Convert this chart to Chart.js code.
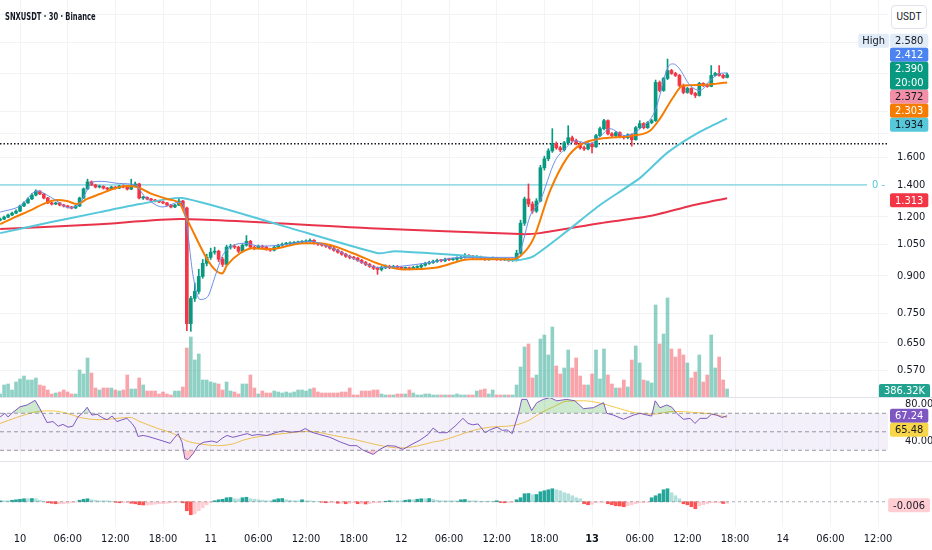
<!DOCTYPE html>
<html lang="en">
<head>
<meta charset="UTF-8">
<title>SNXUSDT · 30 · Binance</title>
<script src="https://cdn.jsdelivr.net/npm/chart.js"></script>
<style>
  body { margin: 0; background: #fff; }
  #wrap { position: relative; width: 932px; height: 550px; overflow: hidden; font-family: Roboto, sans-serif; }
  canvas { position: absolute; left: 0; }
  #title { position: absolute; left: 5px; top: 10px; font-size: 11px; font-weight: 600; color: #131722; z-index: 3; white-space: nowrap; transform-origin: left center; }
  #unit { position: absolute; left: 891px; top: 5px; width: 34px; height: 22px; border: 1px solid #e0e3eb; border-radius: 4px; font-size: 10px; line-height: 22px; text-align: center; color: #131722; background: #fff; z-index: 3; }
  .sep { position: absolute; left: 0; width: 932px; height: 1px; background: #e0e3eb; z-index: 2; }
</style>
</head>
<body>
<div id="wrap">
  <div id="title">SNXUSDT · 30 · Binance</div>
  <div id="unit">USDT</div>
  <canvas id="priceCanvas" width="932" height="397" style="top:0"></canvas>
  <canvas id="rsiCanvas" width="932" height="64" style="top:397px"></canvas>
  <canvas id="macdCanvas" width="932" height="89" style="top:461px"></canvas>
  <div class="sep" style="top:397px"></div>
  <div class="sep" style="top:461px"></div>
</div>

<script>
  // ---- data (30 min candles, index 0 = day 10 00:00) ----
  const candleStart = -5;
  const firstOpen = 1.180;

  const closes = [
    1.186, 1.198, 1.210, 1.221, 1.233,
    1.264, 1.283, 1.308, 1.333, 1.359, 1.340, 1.314, 1.283, 1.276, 1.283,
    1.270, 1.264, 1.258, 1.252, 1.264, 1.314, 1.373, 1.421, 1.400, 1.386,
    1.390, 1.379, 1.372, 1.386, 1.379, 1.393, 1.386, 1.372, 1.393, 1.407,
    1.314, 1.318, 1.308, 1.301, 1.295, 1.289, 1.283, 1.270, 1.258, 1.270,
    1.295, 1.252, 0.714, 0.807, 0.835, 0.898, 0.957, 0.985, 1.010, 1.015,
    0.976, 0.952, 1.035, 1.040, 1.035, 1.015, 1.045, 1.065, 1.035, 1.030,
    1.040, 1.035, 1.025, 1.020, 1.035, 1.045, 1.050, 1.052, 1.055, 1.057,
    1.060, 1.062, 1.065, 1.070, 1.055, 1.050, 1.045, 1.040, 1.030, 1.020,
    1.010, 1.000, 0.990, 0.985, 0.981, 0.971, 0.961, 0.952, 0.943, 0.934,
    0.929, 0.938, 0.943, 0.938, 0.943, 0.938, 0.934, 0.934, 0.932, 0.938,
    0.940, 0.948, 0.957, 0.961, 0.966, 0.971, 0.969, 0.976, 0.974, 0.976,
    0.981, 0.985, 0.995, 0.990, 0.985, 0.987, 0.981, 0.976, 0.980, 0.981,
    0.976, 0.975, 0.976, 0.971, 0.972, 1.005, 1.163, 1.308, 1.276, 1.233,
    1.295, 1.522, 1.590, 1.652, 1.710, 1.677, 1.660, 1.718, 1.761, 1.735,
    1.710, 1.677, 1.668, 1.710, 1.685, 1.779, 1.840, 1.913, 1.795, 1.779,
    1.805, 1.770, 1.761, 1.787, 1.744, 1.849, 1.886, 1.849, 1.895, 1.913,
    2.303, 2.215, 2.348, 2.440, 2.406, 2.383, 2.270, 2.194, 2.237, 2.183,
    2.162, 2.292, 2.270, 2.259, 2.383, 2.406, 2.383, 2.360, 2.390
  ];

  const highs = [
    1.192, 1.203, 1.216, 1.228, 1.240,
    1.270, 1.290, 1.315, 1.342, 1.368, 1.362, 1.344, 1.318, 1.288, 1.288,
    1.287, 1.275, 1.268, 1.262, 1.268, 1.320, 1.380, 1.440, 1.428, 1.405,
    1.398, 1.395, 1.384, 1.392, 1.390, 1.398, 1.400, 1.390, 1.440, 1.420,
    1.412, 1.324, 1.322, 1.312, 1.305, 1.300, 1.294, 1.287, 1.274, 1.275,
    1.318, 1.300, 1.258, 0.815, 0.870, 0.930, 0.975, 1.000, 1.030, 1.035,
    1.020, 0.985, 1.045, 1.050, 1.048, 1.040, 1.052, 1.095, 1.070, 1.042,
    1.046, 1.045, 1.040, 1.030, 1.040, 1.050, 1.056, 1.060, 1.062, 1.064,
    1.066, 1.068, 1.072, 1.078, 1.074, 1.060, 1.055, 1.050, 1.045, 1.035,
    1.025, 1.015, 1.005, 0.996, 0.990, 0.985, 0.976, 0.966, 0.957, 0.948,
    0.940, 0.944, 0.950, 0.948, 0.948, 0.947, 0.942, 0.940, 0.940, 0.944,
    0.946, 0.953, 0.962, 0.967, 0.972, 0.977, 0.976, 0.981, 0.981, 0.982,
    0.987, 0.991, 1.003, 0.999, 0.995, 0.993, 0.991, 0.986, 0.985, 0.987,
    0.985, 0.981, 0.981, 0.980, 0.978, 1.020, 1.180, 1.320, 1.407, 1.290,
    1.310, 1.540, 1.610, 1.670, 1.840, 1.725, 1.690, 1.730, 1.867, 1.775,
    1.750, 1.720, 1.690, 1.720, 1.720, 1.790, 1.855, 1.925, 1.920, 1.805,
    1.815, 1.812, 1.780, 1.795, 1.795, 1.860, 1.913, 1.895, 1.905, 1.925,
    2.330, 2.320, 2.360, 2.580, 2.455, 2.420, 2.395, 2.285, 2.250, 2.245,
    2.195, 2.305, 2.300, 2.285, 2.500, 2.420, 2.500, 2.395, 2.410
  ];

  const lows = [
    1.176, 1.183, 1.195, 1.206, 1.218,
    1.230, 1.260, 1.280, 1.304, 1.328, 1.335, 1.308, 1.278, 1.270, 1.272,
    1.265, 1.258, 1.252, 1.246, 1.248, 1.260, 1.310, 1.368, 1.395, 1.380,
    1.380, 1.372, 1.366, 1.368, 1.372, 1.375, 1.380, 1.366, 1.368, 1.388,
    1.308, 1.305, 1.302, 1.296, 1.290, 1.284, 1.278, 1.265, 1.252, 1.254,
    1.266, 1.245, 0.690, 0.688, 0.795, 0.825, 0.890, 0.945, 0.975, 1.000,
    0.965, 0.942, 0.948, 1.025, 1.028, 1.008, 1.010, 1.040, 1.030, 1.022,
    1.026, 1.030, 1.020, 1.014, 1.016, 1.030, 1.040, 1.045, 1.046, 1.050,
    1.052, 1.054, 1.056, 1.060, 1.050, 1.044, 1.040, 1.034, 1.025, 1.015,
    1.005, 0.995, 0.985, 0.978, 0.975, 0.966, 0.956, 0.946, 0.938, 0.928,
    0.907, 0.922, 0.932, 0.932, 0.933, 0.932, 0.928, 0.928, 0.927, 0.928,
    0.933, 0.935, 0.944, 0.952, 0.956, 0.961, 0.963, 0.965, 0.969, 0.970,
    0.971, 0.976, 0.981, 0.984, 0.980, 0.980, 0.976, 0.971, 0.971, 0.975,
    0.971, 0.970, 0.970, 0.966, 0.966, 0.968, 1.000, 1.150, 1.260, 1.220,
    1.225, 1.290, 1.505, 1.575, 1.640, 1.665, 1.645, 1.650, 1.705, 1.722,
    1.700, 1.665, 1.655, 1.660, 1.636, 1.680, 1.770, 1.830, 1.785, 1.765,
    1.770, 1.760, 1.750, 1.752, 1.690, 1.740, 1.840, 1.838, 1.842, 1.885,
    1.905, 2.200, 2.205, 2.335, 2.395, 2.370, 2.255, 2.180, 2.185, 2.170,
    2.140, 2.155, 2.258, 2.250, 2.255, 2.375, 2.375, 2.350, 2.355
  ];

  // volume in thousands
  const volumes = [
    144, 576, 624, 336, 720,
    864, 1008, 816, 816, 912, 576, 528, 336, 144, 192,
    240, 336, 240, 144, 144, 1296, 1104, 1872, 1152, 432,
    336, 432, 432, 432, 336, 288, 336, 1056, 384, 384,
    912, 576, 288, 288, 288, 144, 240, 144, 96, 288,
    288, 480, 2352, 2880, 1776, 2064, 816, 816, 720, 672,
    624, 336, 720, 288, 240, 144, 624, 624, 1056, 432,
    144, 288, 192, 192, 288, 240, 192, 240, 192, 240,
    336, 336, 288, 384, 432, 240, 192, 192, 192, 192,
    192, 240, 240, 432, 96, 96, 288, 288, 288, 336,
    336, 144, 96, 96, 96, 144, 144, 144, 336, 192,
    96, 96, 144, 144, 96, 96, 96, 96, 96, 96,
    144, 96, 96, 96, 96, 288, 336, 384, 144, 336,
    96, 96, 96, 96, 96, 576, 1440, 2400, 2544, 912,
    1056, 2784, 2976, 2016, 3360, 1488, 1104, 1392, 2256, 1392,
    1872, 1008, 576, 576, 1104, 2256, 864, 2304, 1056, 624,
    432, 432, 816, 480, 1776, 2448, 1632, 816, 768, 672,
    4416, 2544, 3024, 4752, 2304, 1920, 2304, 2016, 1632, 912,
    1200, 2016, 720, 1056, 2976, 1392, 1920, 816, 386.32
  ];

  const macdHist = [
    0.004, 0.004, 0.004, 0.006, 0.008,
    0.010, 0.012, 0.012, 0.013, 0.012, 0.006, 0.002, -0.004, -0.006, -0.008,
    -0.008, -0.008, -0.006, -0.004, -0.002, 0.006, 0.010, 0.012, 0.008, 0.006,
    0.004, 0.004, 0.004, 0.002, -0.002, -0.004, -0.004, -0.004, -0.006, -0.008,
    -0.012, -0.013, -0.013, -0.012, -0.010, -0.008, -0.008, -0.006, -0.004, -0.003,
    -0.002, -0.004, -0.036, -0.052, -0.048, -0.036, -0.024, -0.012, -0.004, 0.004,
    0.008, 0.010, 0.016, 0.017, 0.012, 0.011, 0.016, 0.018, 0.012, 0.010,
    0.008, 0.006, 0.004, 0.004, 0.008, 0.012, 0.013, 0.008, 0.006, 0.004,
    0.004, 0.008, 0.004, 0.004, 0.002, 0.000, -0.002, -0.004, -0.004, -0.004,
    -0.006, -0.006, -0.008, -0.006, -0.004, -0.008, -0.008, -0.009, -0.008, -0.004,
    -0.004, -0.002, 0.002, 0.004, 0.004, 0.004, 0.004, 0.006, 0.008, 0.008,
    0.010, 0.012, 0.012, 0.013, 0.010, 0.006, 0.004, 0.004, 0.004, 0.004,
    0.004, 0.008, 0.009, 0.004, 0.004, 0.003, 0.002, 0.002, 0.002, 0.002,
    0.004, -0.003, -0.004, -0.004, -0.002, 0.008, 0.016, 0.032, 0.033, 0.028,
    0.029, 0.040, 0.044, 0.048, 0.052, 0.048, 0.044, 0.036, 0.032, 0.024,
    0.016, 0.012, -0.008, -0.012, -0.010, -0.004, -0.002, -0.002, -0.008, -0.012,
    -0.016, -0.017, -0.020, -0.016, -0.012, -0.008, -0.004, -0.004, -0.002, 0.016,
    0.024, 0.032, 0.048, 0.052, 0.036, 0.024, 0.012, -0.008, -0.012, -0.020,
    -0.028, -0.016, -0.012, -0.008, -0.004, -0.004, -0.004, -0.007, -0.006
  ];

  // moving averages read at their bends: [candle index, price]
  const emaFast = [[-5,1.227],[0,1.264],[4.3,1.359],[8.1,1.314],[12.6,1.252],[15.1,1.283],[18.4,1.421],[20.5,1.425],[25,1.41],[29,1.400],[31.5,1.321],[36,1.258],[40.3,1.289],[41.5,1.233],[43.6,0.898],[45.3,0.803],[47.1,0.811],[49.1,0.898],[50.9,0.990],[52.9,1.035],[56.6,1.055],[60.4,1.040],[65.5,1.045],[73,1.065],[78,1.035],[85.6,0.966],[90.1,0.938],[95.7,0.943],[103.2,0.961],[110.8,0.985],[124.6,0.985],[125.9,1.015],[128.4,1.204],[130.9,1.295],[134.7,1.574],[137.2,1.668],[139.7,1.735],[143.5,1.710],[146,1.770],[148.5,1.840],[152.3,1.779],[156.1,1.840],[159.9,2.009],[163.1,2.48],[164.4,2.52],[165.7,2.48],[168.7,2.270],[171.2,2.215],[173.7,2.325],[176.2,2.406],[178,2.412]];
  const emaSlow = [[-5,1.157],[-1.8,1.192],[3.3,1.245],[5.8,1.276],[9.3,1.301],[11.8,1.295],[14.4,1.276],[16.9,1.308],[20.1,1.340],[23.4,1.373],[26.9,1.393],[29.5,1.386],[32.7,1.346],[37,1.308],[40.3,1.276],[42,1.186],[50.9,0.911],[52.1,0.948],[55.4,1.005],[58.7,1.030],[62.9,1.025],[71.2,1.055],[75.5,1.055],[83.8,1.005],[89.9,0.957],[96.4,0.929],[105,0.938],[113.3,0.976],[124.1,0.976],[125.9,0.990],[129.2,1.076],[133.4,1.359],[137.7,1.597],[141,1.701],[146,1.752],[154.3,1.779],[158.6,1.822],[161.1,1.932],[164.4,2.141],[166.9,2.270],[171.2,2.275],[175.5,2.290],[178,2.303]];
  const maMid = [[-5,1.108],[7.6,1.168],[20.1,1.227],[30.2,1.276],[40.8,1.314],[65.5,1.152],[90.1,1.005],[94.4,1.015],[103.2,1.005],[110.8,0.995],[119.1,0.981],[125.1,0.971],[129.2,0.990],[137.7,1.119],[146,1.270],[156.1,1.449],[162.9,1.636],[171.2,1.813],[178,1.934]];
  const maLong = [[-5,1.130],[20.1,1.157],[40.8,1.186],[88.1,1.135],[125.9,1.103],[130.9,1.108],[146,1.163],[158.6,1.204],[168.7,1.264],[178,1.313]];

  const rsiLine = [[-5,66],[-3.8,70],[-3,66],[-1.8,71],[0,77],[1.8,79],[3.8,84],[5,75],[6.8,60],[8.3,61],[9.6,56],[10.8,58],[12.1,55],[13.3,56],[14.6,66],[15.9,71],[16.9,76.5],[18.1,68],[19.4,69],[20.6,65.5],[21.9,63],[23.2,67],[24.4,61],[25.7,63],[26.9,64.5],[28.2,59],[29,54],[29.7,45],[31,46],[32.2,45],[34.5,42],[36,40],[37.8,37.5],[38.8,43],[39.8,48],[40.8,38.5],[41.5,21],[42.3,20],[43.6,26.5],[44.8,35],[46.1,38.5],[48.3,40],[49.6,38.5],[50.9,43],[52.1,46],[53.6,44],[55.4,46],[57.2,48],[58.4,46],[59.9,47],[62.2,46],[64.7,49.5],[66.2,51],[68,49.5],[70.5,50.5],[71.8,53.5],[73.5,49.5],[75.5,47],[78,44],[80.6,39],[83.1,35],[84.8,35],[86.4,30],[88.9,25.5],[90.6,31],[92.4,35],[94.4,34.5],[96.4,31],[98.9,37],[100.7,41],[102.7,47],[104,54],[105.5,49],[107.5,49],[109.5,56],[111.5,64.5],[112.8,59],[114,57.5],[115.3,58.5],[117.1,49],[118.3,52],[120.1,55],[121.4,51.5],[122.6,52],[123.9,48],[125.5,70],[126.3,85],[127.6,85],[128.8,73],[130.1,81.5],[131.7,85],[133.4,87],[135.1,83.5],[137.6,85],[139.7,83.5],[141.8,75],[144.3,76],[146.9,81.5],[147.7,70],[149.4,68],[151.9,63.5],[154.4,68],[156.1,70],[157.9,68],[159,67],[159.9,83.5],[161.1,76],[162.8,79],[164.1,76.5],[165.3,70],[167,63.5],[168.7,64.5],[169.9,59],[171.2,64.5],[172.9,64.5],[174.1,69],[175.4,68],[176.7,65.5],[178,67.24]];
  const rsiSignal = [[-5,59],[-0.8,65.5],[3.4,71],[5.9,72.5],[8.4,72.5],[11.8,70],[15.1,65.5],[20.1,63],[27.7,65.5],[30.2,61],[34.4,54],[38.6,48],[42,40],[45.3,37],[49.5,35],[53.7,37],[56.2,41],[60.4,45],[66.3,48],[73,50.5],[78.9,46],[83.9,42],[87.3,38.5],[91.5,34.5],[95.7,32.5],[99.9,34.5],[104.1,39],[105.7,40],[109.9,45.5],[114.1,51.5],[118.3,55],[122.5,56],[125,57.5],[128.4,63],[130.9,70],[134.3,77],[137.6,83],[141.8,83.5],[146,81],[150.2,76],[154.4,71],[159.4,69],[164.5,72],[169.5,71],[174.5,69],[178,65.48]];

  const xTickIdx = [0, 12, 24, 36, 48, 60, 72, 84, 96, 108, 120, 132, 144, 156, 168, 180, 192, 204, 216];
  const xLabels = ['10', '06:00', '12:00', '18:00', '11', '06:00', '12:00', '18:00', '12', '06:00', '12:00', '18:00', '13', '06:00', '12:00', '18:00', '14', '06:00', '12:00'];
  const boldLabel = '13';

  const priceTicks = [0.57, 0.65, 0.75, 0.9, 1.05, 1.2, 1.4, 1.6, 1.8, 2.0, 2.4, 2.8, 3.2];
  const priceTickLabels = [0.57, 0.65, 0.75, 0.9, 1.05, 1.2, 1.4, 1.6];
  const supportLevel = 1.4;
  const dottedLevel = 1.71;
  const sessionHigh = 2.580;
  const pinkLevel = 2.372;
  const rsiLevels = [70, 50, 30];
  const rsiTicks = [80, 40];

  // ---- helpers ----
  function pickFont(list) {
    const c = document.createElement('canvas').getContext('2d');
    const probe = '06:00 1.600 SNXUSDT';
    for (const f of list) {
      c.font = '20px monospace';
      const a = c.measureText(probe).width;
      c.font = '20px "' + f + '", monospace';
      if (Math.abs(c.measureText(probe).width - a) > 0.5) return f;
    }
    return null;
  }
  const narrow = pickFont(['Liberation Sans Narrow', 'Arial Narrow', 'DejaVu Sans Condensed', 'Roboto Condensed']);
  const FONT = narrow ? "'" + narrow + "', Roboto, sans-serif" : 'Roboto, sans-serif';
  const FSIZE = narrow ? 11 : 10;

  const UP = '#089981', DOWN = '#F23645';
  const xMin = -5.035, xMax = 218.5;
  const idx = k => candleStart + k;
  const pts = arr => arr.map(([x, y]) => ({ x, y }));
  const hline = v => [{ x: xMin, y: v }, { x: xMax, y: v }];

  const opens = closes.map((c, k) => k === 0 ? firstOpen : closes[k - 1]);
  const isUp = closes.map((c, k) => c >= opens[k]);
  const last = a => a[a.length - 1];

  function xScale(showLabels) {
    return {
      type: 'linear', min: xMin, max: xMax, offset: false,
      grid: { color: '#f2f3f6', drawTicks: false, offset: false },
      border: { display: false },
      afterBuildTicks: s => { s.ticks = xTickIdx.map(v => ({ value: v })); },
      ticks: {
        display: showLabels, autoSkip: false, maxRotation: 0, padding: 6, color: '#131722',
        font: c => ({ family: FONT, size: FSIZE, weight: xLabels[c.index] === boldLabel ? 'bold' : 'normal' }),
        callback: (v, k) => xLabels[k]
      },
      afterFit: s => { s.height = showLabels ? 23 : 0; s.paddingLeft = 0; s.paddingRight = 0; }
    };
  }

  const rightAxis = extra => Object.assign({
    position: 'right',
    border: { display: false },
    afterFit: s => { s.width = 44; s.paddingTop = 0; s.paddingBottom = 0; }
  }, extra);

  const badgePlugin = {
    id: 'badges',
    afterDraw(chart, args, opts) {
      const ctx = chart.ctx;
      const h = 14;
      ctx.save();
      ctx.font = FSIZE + 'px ' + FONT;
      ctx.textBaseline = 'middle';

      (opts.tags || []).forEach(t => {
        const y = chart.scales[t.scale].getPixelForValue(t.value);
        const w = ctx.measureText(t.text).width;
        ctx.fillStyle = '#fff';
        ctx.fillRect(chart.chartArea.right - w - 8, y - 6, w + 8, 12);
        ctx.fillStyle = t.color;
        ctx.fillText(t.text, chart.chartArea.right - w - 3, y + 0.5);
      });

      const items = (opts.items || []).map(b => ({ ...b, y: chart.scales[b.scale].getPixelForValue(b.value), h: b.sub ? h * 2 : h }));
      items.sort((a, b) => a.y - b.y);
      const place = g => {
        let off = 0, sum = 0, pinTop = null;
        g.items.forEach(it => {
          const t = it.y - off - h / 2;
          sum += t;
          if (it.pin) pinTop = t;
          off += it.h;
        });
        g.top = pinTop !== null ? pinTop : sum / g.items.length + 2;
        g.height = off;
      };
      const groups = items.map(it => ({ items: [it] }));
      groups.forEach(place);
      let k = 0;
      while (k < groups.length - 1) {
        const a = groups[k], b = groups[k + 1];
        if (a.top + a.height > b.top) {
          const g = { items: a.items.concat(b.items) };
          place(g);
          groups.splice(k, 2, g);
          k = Math.max(0, k - 1);
        } else k++;
      }
      groups.forEach(g => {
        let y = g.top;
        g.items.forEach(it => {
          const w = Math.max(36, ctx.measureText(it.text).width + 10);
          const left = Math.min(chart.chartArea.right + 2, chart.width - w - 2);
          ctx.fillStyle = it.bg;
          ctx.beginPath();
          ctx.roundRect(left, y, w, it.h, 2);
          ctx.fill();
          if (it.tag) {
            const tw = ctx.measureText(it.tag).width + 8;
            ctx.beginPath();
            ctx.roundRect(left - tw - 1, y, tw, h, 2);
            ctx.fill();
            ctx.fillStyle = it.fg;
            ctx.fillText(it.tag, left - tw + 3, y + h / 2 + 0.5);
          }
          ctx.fillStyle = it.fg;
          ctx.fillText(it.text, left + 5, y + h / 2 + 0.5);
          if (it.sub) ctx.fillText(it.sub, left + 5, y + h * 1.5 + 0.5);
          y += it.h;
        });
      });
      ctx.restore();
    }
  };

  const baseOptions = {
    responsive: false,
    animation: false,
    layout: { padding: 0 },
    datasets: { bar: { grouped: false } },
    plugins: { legend: { display: false }, tooltip: { enabled: false } }
  };
  const axisTicks = { padding: 9, color: '#131722', font: { family: FONT, size: FSIZE } };

  // ---- price pane ----
  new Chart(document.getElementById('priceCanvas'), {
    type: 'bar',
    data: {
      datasets: [
        { type: 'line', data: pts(emaFast), borderColor: '#6b8fe8', borderWidth: 1, pointRadius: 0, cubicInterpolationMode: 'monotone', order: 0 },
        { type: 'line', data: pts(emaSlow), borderColor: '#F57C00', borderWidth: 2, pointRadius: 0, cubicInterpolationMode: 'monotone', order: 1 },
        { type: 'line', data: pts(maMid), borderColor: '#56C8DA', borderWidth: 2, pointRadius: 0, tension: 0.2, order: 1 },
        { type: 'line', data: pts(maLong), borderColor: '#E8334A', borderWidth: 2, pointRadius: 0, tension: 0.2, order: 1 },
        { data: closes.map((c, k) => ({ x: idx(k), y: [opens[k], c] })), backgroundColor: isUp.map(u => u ? UP : DOWN), barThickness: 3, minBarLength: 1, order: 2 },
        { data: closes.map((c, k) => ({ x: idx(k), y: [lows[k], highs[k]] })), backgroundColor: isUp.map(u => u ? UP : DOWN), barThickness: 1, order: 3 },
        { type: 'line', data: hline(supportLevel), borderColor: '#56C8DA', borderWidth: 1, pointRadius: 0, order: 4 },
        { type: 'line', data: hline(dottedLevel), borderColor: '#131722', borderWidth: 1.5, borderDash: [1.5, 2], pointRadius: 0, order: 4 },
        { data: volumes.map((v, k) => ({ x: idx(k), y: v })), yAxisID: 'yVol', backgroundColor: isUp.map(u => u ? 'rgba(8,153,129,0.45)' : 'rgba(242,54,69,0.45)'), barThickness: 3, order: 5 }
      ]
    },
    options: Object.assign({}, baseOptions, {
      scales: {
        x: xScale(false),
        y: rightAxis({
          type: 'logarithmic', min: 0.5, max: 3.437,
          grid: { color: '#f2f3f6', drawTicks: false },
          afterBuildTicks: s => { s.ticks = priceTicks.map(v => ({ value: v })); },
          ticks: Object.assign({}, axisTicks, { callback: v => priceTickLabels.includes(v) ? v.toFixed(3) : '' })
        }),
        yVol: { display: false, min: 0, max: 19056 }
      },
      plugins: Object.assign({}, baseOptions.plugins, {
        badges: {
          tags: [{ scale: 'y', value: supportLevel, text: '0 -', color: '#56C8DA' }],
          items: [
            { scale: 'y', value: sessionHigh, text: sessionHigh.toFixed(3), tag: 'High', bg: '#e1ecf9', fg: '#131722' },
            { scale: 'y', value: last(emaFast)[1], text: last(emaFast)[1].toFixed(3), bg: '#4B84F0', fg: '#fff' },
            { scale: 'y', value: last(closes), text: last(closes).toFixed(3), sub: '20:00', bg: UP, fg: '#fff' },
            { scale: 'y', value: pinkLevel, text: pinkLevel.toFixed(3), bg: '#F28EA6', fg: '#131722' },
            { scale: 'y', value: last(emaSlow)[1], text: last(emaSlow)[1].toFixed(3), bg: '#F57C00', fg: '#fff' },
            { scale: 'y', value: last(maMid)[1], text: last(maMid)[1].toFixed(3), bg: '#56C8DA', fg: '#131722' },
            { scale: 'y', value: last(maLong)[1], text: last(maLong)[1].toFixed(3), bg: DOWN, fg: '#fff' },
            { scale: 'yVol', value: last(volumes), text: last(volumes).toFixed(2) + 'K', bg: '#22A390', fg: '#fff' }
          ]
        }
      })
    }),
    plugins: [badgePlugin]
  });

  // ---- RSI pane ----
  const levelStyle = { type: 'line', borderColor: 'rgba(120,123,134,0.75)', borderWidth: 1, borderDash: [4, 3], pointRadius: 0 };
  new Chart(document.getElementById('rsiCanvas'), {
    type: 'line',
    data: {
      datasets: [
        Object.assign({}, levelStyle, { data: hline(rsiLevels[0]), fill: '+1', backgroundColor: 'rgba(126,87,194,0.09)' }),
        Object.assign({}, levelStyle, { data: hline(rsiLevels[2]) }),
        Object.assign({}, levelStyle, { data: hline(rsiLevels[1]) }),
        { data: pts(rsiLine), borderColor: '#7E57C2', borderWidth: 1, pointRadius: 0,
          fill: { target: { value: rsiLevels[0] }, above: 'rgba(76,175,80,0.28)', below: 'rgba(0,0,0,0)' } },
        { data: pts(rsiLine), borderWidth: 0, pointRadius: 0,
          fill: { target: { value: rsiLevels[2] }, above: 'rgba(0,0,0,0)', below: 'rgba(242,54,69,0.28)' } },
        { data: pts(rsiSignal), borderColor: '#F7C948', borderWidth: 1, pointRadius: 0, cubicInterpolationMode: 'monotone' }
      ]
    },
    options: Object.assign({}, baseOptions, {
      scales: {
        x: xScale(false),
        y: rightAxis({
          min: 18.4, max: 87.6,
          grid: { display: false },
          afterBuildTicks: s => { s.ticks = rsiTicks.map(v => ({ value: v })); },
          ticks: Object.assign({}, axisTicks, { callback: v => v.toFixed(2) })
        })
      },
      plugins: Object.assign({}, baseOptions.plugins, {
        badges: {
          items: [
            { scale: 'y', value: last(rsiLine)[1], text: last(rsiLine)[1].toFixed(2), bg: '#7E57C2', fg: '#fff', pin: true },
            { scale: 'y', value: last(rsiSignal)[1], text: last(rsiSignal)[1].toFixed(2), bg: '#F9D648', fg: '#131722' }
          ]
        }
      })
    }),
    plugins: [badgePlugin]
  });

  // ---- MACD histogram pane ----
  const histColors = macdHist.map((v, k) => {
    const prev = k === 0 ? 0 : macdHist[k - 1];
    if (v >= 0) return v > prev ? '#26A69A' : '#B2DFDB';
    return v < prev ? '#FF5252' : '#FFCDD2';
  });
  new Chart(document.getElementById('macdCanvas'), {
    type: 'bar',
    data: {
      datasets: [
        { type: 'line', data: hline(0), borderColor: 'rgba(120,123,134,0.6)', borderWidth: 1, borderDash: [3, 3], pointRadius: 0, order: 0 },
        { data: macdHist.map((v, k) => ({ x: idx(k), y: v })), backgroundColor: histColors, barThickness: 3, order: 1 }
      ]
    },
    options: Object.assign({}, baseOptions, {
      scales: {
        x: xScale(true),
        y: rightAxis({ min: -0.101, max: 0.163, grid: { display: false }, ticks: { display: false } })
      },
      plugins: Object.assign({}, baseOptions.plugins, {
        badges: {
          items: [{ scale: 'y', value: last(macdHist), text: last(macdHist).toFixed(3), bg: '#FFCDD2', fg: '#131722' }]
        }
      })
    }),
    plugins: [badgePlugin]
  });

  // title in the narrow chart font, fitted to the width it has in the picture
  const title = document.getElementById('title');
  title.style.fontFamily = FONT;
  title.style.transform = 'scaleX(' + Math.min(1, 91 / title.offsetWidth) + ')';
</script>
</body>
</html>
